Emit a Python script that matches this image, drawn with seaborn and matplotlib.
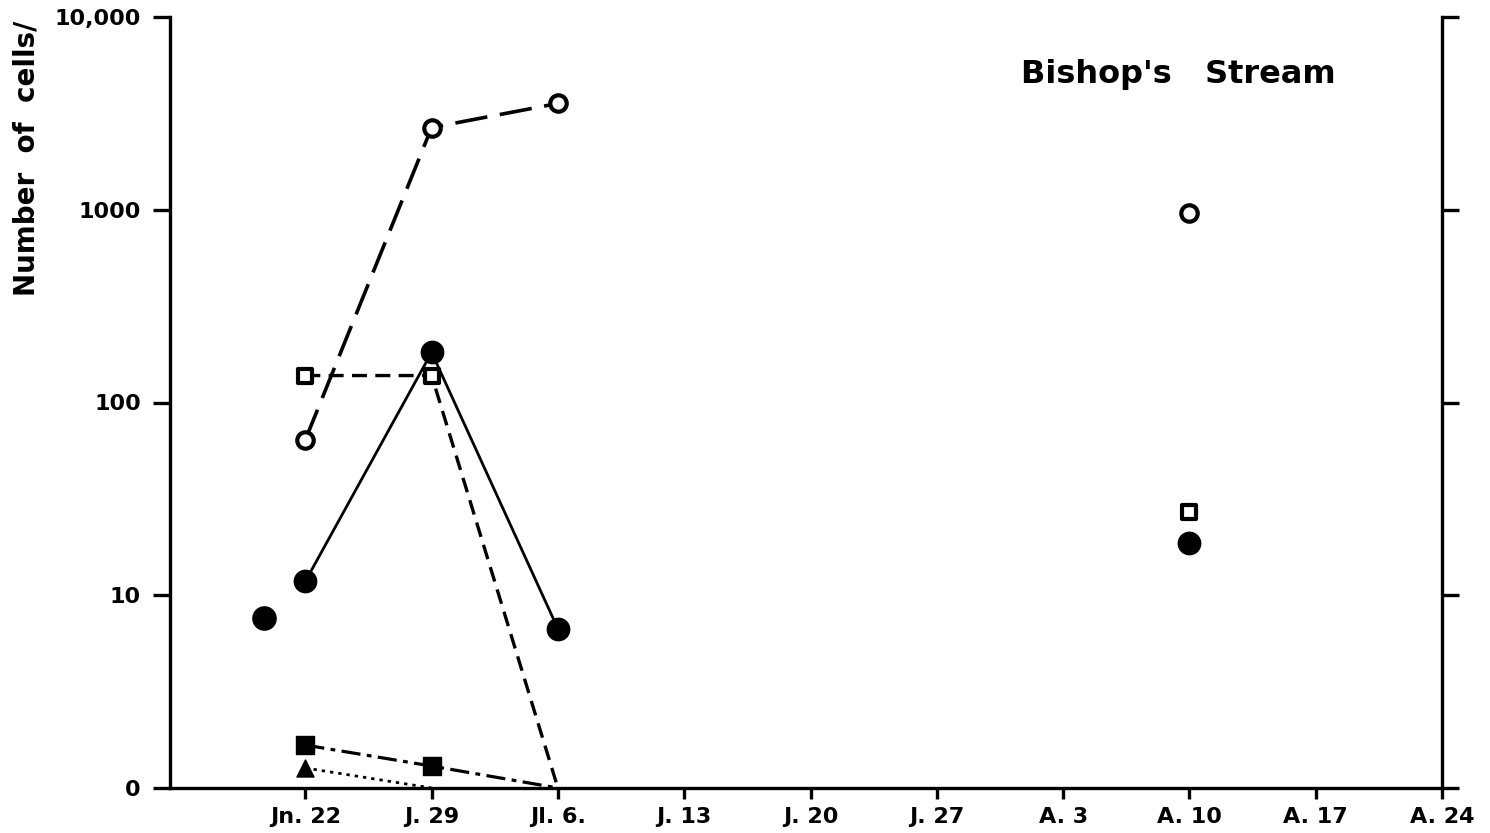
import matplotlib
matplotlib.use("Agg")
import matplotlib.pyplot as plt
import matplotlib.ticker as mticker
import seaborn as sns
import numpy as np

# ---- data (days after June 22; y values on log axis where "0" is drawn at 1) ----
tick_days = [0, 7, 14, 21, 28, 35, 42, 49, 56, 63]
tick_labels = ["Jn. 22", "J. 29", "Jl. 6.", "J. 13", "J. 20", "J. 27", "A. 3", "A. 10", "A. 17", "A. 24"]

y_ticks = [1, 10, 100, 1000, 10000]
y_tick_labels = ["0", "10", "100", "1000", "10,000"]

series_days = [0, 7, 14]
open_circle = [64, 2670, 3560]
open_square = [138, 138, 1]
filled_circle = [11.8, 182, 6.7]
filled_square = [1.67, 1.3, 1]
triangle_days = [0, 7]
triangle = [1.27, 1]

late_day = [49]
late_open_circle = [965]
late_open_square = [27]
late_filled_circle = [18.7]

early_day = [-2.3]
early_filled_circle = [7.6]

title = "Bishop's   Stream"
ylabel = "Number  of  cells/"

# ---- figure ----
sns.set_style("white")
plt.rcParams["font.family"] = ["DejaVu Sans"]
plt.rcParams["text.color"] = "black"
plt.rcParams["xtick.color"] = "black"
plt.rcParams["ytick.color"] = "black"
plt.rcParams["xtick.labelcolor"] = "black"
plt.rcParams["ytick.labelcolor"] = "black"
fig = plt.figure(figsize=(14.9, 8.33), dpi=100)
ax = fig.add_axes([170 / 1490, 1 - 788 / 833, (1442 - 170) / 1490, (788 - 17) / 833])

ax.set_yscale("log")
ax.set_ylim(1, 10000)
ax.set_xlim(-7.5, 63)

K = "black"


def line(x, y, ls, lw):
    sns.lineplot(x=x, y=y, ax=ax, color=K, linestyle=ls, linewidth=lw,
                 marker=None, estimator=None, sort=False, zorder=2)


def pts(x, y, marker, size, filled, mew=2.6):
    x = np.asarray(x, dtype=float)
    y = np.asarray(y, dtype=float)
    keep = y > 1
    sns.scatterplot(x=x[keep], y=y[keep], ax=ax, marker=marker, s=size,
                    facecolor=K if filled else "white", edgecolor=K,
                    linewidth=mew, zorder=4, clip_on=False)


line(series_days, open_circle, (0, (9, 3.5)), 2.6)
line(series_days, open_square, (0, (4.5, 2.5)), 2.4)
line(series_days, filled_circle, "-", 2.0)
line(series_days, filled_square, (0, (6, 2, 1.5, 2)), 2.3)
line(triangle_days, triangle, (0, (1.2, 1.8)), 2.0)

pts(series_days, open_circle, "o", 140, False, 3.0)
pts(series_days, open_square, "s", 105, False, 3.0)
pts(series_days, filled_circle, "o", 260, True, 1.0)
pts(series_days, filled_square, "s", 170, True, 1.0)
pts(triangle_days, triangle, "^", 150, True, 1.0)

pts(late_day, late_open_circle, "o", 140, False, 3.0)
pts(late_day, late_open_square, "s", 105, False, 3.0)
pts(late_day, late_filled_circle, "o", 260, True, 1.0)
pts(early_day, early_filled_circle, "o", 280, True, 1.0)

# ---- axes styling ----
ax.set_xticks(tick_days)
ax.set_xticklabels(tick_labels, fontsize=16, fontweight="bold")
ax.set_yticks(y_ticks)
ax.set_yticklabels(y_tick_labels, fontsize=16, fontweight="bold")
ax.yaxis.set_minor_locator(mticker.NullLocator())
ax.set_xlabel("")
ax.set_ylabel("")

for side in ["left", "right", "bottom"]:
    ax.spines[side].set_visible(True)
    ax.spines[side].set_linewidth(2.4)
    ax.spines[side].set_color(K)
ax.spines["top"].set_visible(False)

ax.tick_params(axis="y", which="major", direction="out", length=12, width=2.4,
               color=K, pad=9, left=True, right=True, labelright=False)
ax.tick_params(axis="x", which="major", direction="out", length=8, width=2.4,
               color=K, pad=6, bottom=True)

ax.text(0.916, 0.925, title, transform=ax.transAxes, ha="right", va="center",
        fontsize=23, fontweight="bold", color=K)

fig.text(0.018, 1 - 158 / 833, ylabel, rotation=90, ha="center", va="center",
         fontsize=20, fontweight="bold", color=K)

fig.savefig("out.png", dpi=100, facecolor="white")
